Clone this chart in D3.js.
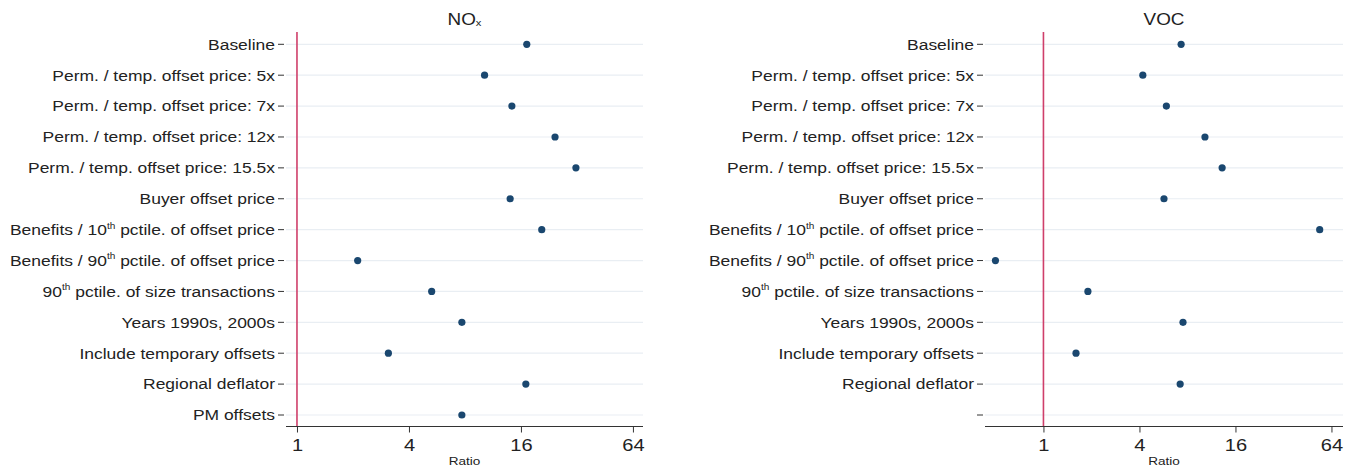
<!DOCTYPE html>
<html>
<head>
<meta charset="utf-8">
<script src="https://cdn.jsdelivr.net/npm/d3@7/dist/d3.min.js"></script>
<style>
  html, body { margin: 0; padding: 0; background: #fff; }
  svg { display: block; font-family: "Liberation Sans", Arial, sans-serif; }
</style>
</head>
<body>
<svg id="chart" width="1353" height="468"></svg>
<script>
// ---- Data ----
const noxCategories = [
  "Baseline",
  "Perm. / temp. offset price: 5x",
  "Perm. / temp. offset price: 7x",
  "Perm. / temp. offset price: 12x",
  "Perm. / temp. offset price: 15.5x",
  "Buyer offset price",
  "Benefits / 10^th pctile. of offset price",
  "Benefits / 90^th pctile. of offset price",
  "90^th pctile. of size transactions",
  "Years 1990s, 2000s",
  "Include temporary offsets",
  "Regional deflator",
  "PM offsets"
];
const vocCategories = [
  "Baseline",
  "Perm. / temp. offset price: 5x",
  "Perm. / temp. offset price: 7x",
  "Perm. / temp. offset price: 12x",
  "Perm. / temp. offset price: 15.5x",
  "Buyer offset price",
  "Benefits / 10^th pctile. of offset price",
  "Benefits / 90^th pctile. of offset price",
  "90^th pctile. of size transactions",
  "Years 1990s, 2000s",
  "Include temporary offsets",
  "Regional deflator",
  ""
];
const noxValues = [17.2, 10.2, 14.3, 24.4, 31.6, 14.0, 20.7, 2.12, 5.3, 7.7, 3.1, 17.0, 7.7];
const vocValues = [7.3, 4.2, 5.9, 10.3, 13.2, 5.7, 54, 0.5, 1.9, 7.5, 1.6, 7.2, null];
const tickValues = [1, 4, 16, 64];
const refValue = [1];

// ---- Layout ----
const SX = 1.18; // horizontal text stretch of the reference
const svg = d3.select("#chart");
const yTop = 44.3, yBottom = 415, axisY = 426.5, plotTop = 32;
const panels = [
  { title: "NO", sub: "x", cats: noxCategories, vals: noxValues, range: [286, 643], domain: [0.873, 72.5] },
  { title: "VOC", sub: null, cats: vocCategories, vals: vocValues, range: [985, 1343], domain: [0.43, 75.6] }
];

panels.forEach(p => {
  const x = d3.scaleLog().base(2).domain(p.domain).range(p.range);
  const y = d3.scalePoint().domain(d3.range(p.cats.length)).range([yTop, yBottom]);
  const g = svg.append("g");

  // gridlines
  g.selectAll("line.grid").data(d3.range(p.cats.length)).join("line")
    .attr("x1", p.range[0]).attr("x2", p.range[1])
    .attr("y1", d => y(d)).attr("y2", d => y(d))
    .attr("stroke", "#e9eef3").attr("stroke-width", 1.2);

  // reference line
  g.selectAll("line.ref").data(refValue).join("line")
    .attr("x1", d => x(d)).attr("x2", d => x(d))
    .attr("y1", plotTop).attr("y2", axisY)
    .attr("stroke", "#cf3f6a").attr("stroke-width", 1.6);

  // x axis
  const xAxis = d3.axisBottom(x).tickValues(tickValues).tickFormat(d3.format("d"))
    .tickSize(6).tickSizeOuter(0);
  const ax = g.append("g").attr("transform", `translate(0,${axisY})`).call(xAxis);
  ax.select(".domain").attr("stroke", "#333").attr("stroke-width", 1.2)
    .attr("d", `M${p.range[0]},0H${p.range[1]}`);
  ax.selectAll(".tick line").attr("stroke", "#333");
  ax.selectAll(".tick text").attr("fill", "#222").attr("font-size", 17)
    .attr("y", 25).attr("dy", 0).attr("transform", `scale(${SX},1)`);

  // x axis title
  g.append("text")
    .attr("transform", `translate(${(p.range[0] + p.range[1]) / 2},465) scale(${SX},1)`)
    .attr("text-anchor", "middle").attr("font-size", 11.5).attr("fill", "#222").text("Ratio");

  // y ticks
  const tickX = p.range[0];
  g.selectAll("line.ytick").data(d3.range(p.cats.length)).join("line")
    .attr("x1", tickX - 8).attr("x2", tickX - 2)
    .attr("y1", d => y(d)).attr("y2", d => y(d))
    .attr("stroke", "#333").attr("stroke-width", 1);

  // y labels with superscripts
  const labels = g.selectAll("text.ylab").data(p.cats).join("text")
    .attr("transform", (d, i) => `translate(${tickX - 11},${y(i)}) scale(${SX},1)`)
    .attr("dy", "0.36em").attr("text-anchor", "end")
    .attr("font-size", 14.8).attr("fill", "#222");
  labels.each(function(d) {
    const t = d3.select(this);
    const parts = d.split("^th");
    parts.forEach((part, k) => {
      if (k > 0) {
        t.append("tspan").attr("font-size", 8.5).attr("dy", "-0.75em").text("th");
        t.append("tspan").attr("dy", "0.44em").text("  " + part.replace(/^ /, ""));
      } else {
        t.append("tspan").text(part);
      }
    });
  });

  // dots
  g.selectAll("circle").data(p.vals.map((v, i) => ({ v, i })).filter(d => d.v != null)).join("circle")
    .attr("cx", d => x(d.v)).attr("cy", d => y(d.i)).attr("r", 3.6)
    .attr("fill", "#1a476f");

  // title
  const title = g.append("text")
    .attr("transform", `translate(${(p.range[0] + p.range[1]) / 2},25) scale(${SX},1)`)
    .attr("text-anchor", "middle").attr("font-size", 16).attr("fill", "#222");
  title.append("tspan").text(p.title);
  if (p.sub) title.append("tspan").attr("font-size", 9.5).attr("dy", "0.15em").text(p.sub);
});
</script>
</body>
</html>
